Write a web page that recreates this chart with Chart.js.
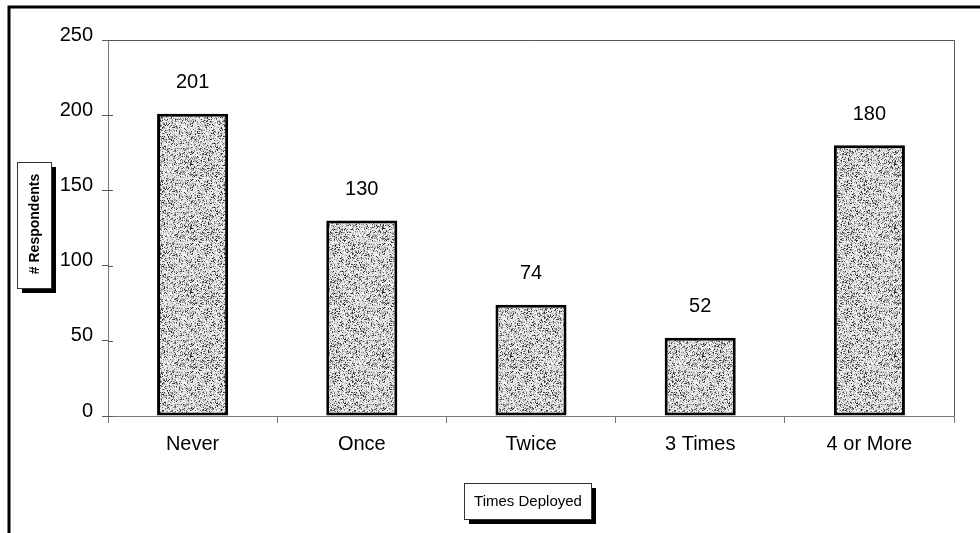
<!DOCTYPE html>
<html lang="en">
<head>
    <meta charset="UTF-8">
    <title>Times Deployed</title>
    <script src="https://cdn.jsdelivr.net/npm/chart.js"></script>
    <style>
        html, body {
            margin: 0;
            padding: 0;
            background: #fff;
        }
        .chart-container {
            position: relative;
            width: 980px;
            height: 533px;
        }
    </style>
</head>
<body>
    <div class="chart-container">
        <canvas id="deployChart" width="980" height="533"></canvas>
    </div>

    <script type="text/javascript">
        // data
        const categories = ['Never', 'Once', 'Twice', '3 Times', '4 or More'];
        const respondents = [201, 130, 74, 52, 180];
        const yTicks = [0, 50, 100, 150, 200, 250];

        const FONT = '"Liberation Sans", Arial, sans-serif';

        // speckled grey fill like the scanned bars
        function makeSpeckle() {
            const c = document.createElement('canvas');
            c.width = 64;
            c.height = 64;
            const g = c.getContext('2d');
            const img = g.createImageData(64, 64);
            let seed = 12345;
            function rnd() {
                seed = (seed * 1103515245 + 12345) & 0x7fffffff;
                return seed / 0x7fffffff;
            }
            for (let y = 0; y < 64; y++) {
                for (let x = 0; x < 64; x++) {
                    const r = rnd();
                    let v = 205 + rnd() * 50;
                    if (r < 0.32) v = 100 + rnd() * 80;
                    if (r < 0.07) v = 50;
                    const i = (y * 64 + x) * 4;
                    img.data[i] = img.data[i + 1] = img.data[i + 2] = v;
                    img.data[i + 3] = 255;
                }
            }
            g.putImageData(img, 0, 0);
            return g.createPattern(c, 'repeat');
        }

        // frame, plot border, value labels, boxed axis titles
        const decorPlugin = {
            id: 'decor',
            beforeDraw(chart) {
                const ctx = chart.ctx;
                ctx.save();
                ctx.strokeStyle = '#000';
                ctx.lineWidth = 3;
                ctx.beginPath();
                ctx.moveTo(9, 533);
                ctx.lineTo(9, 7);
                ctx.lineTo(980, 7);
                ctx.stroke();
                ctx.restore();
            },
            afterDatasetsDraw(chart) {
                const ctx = chart.ctx;
                const a = chart.chartArea;
                ctx.save();
                ctx.strokeStyle = '#555';
                ctx.lineWidth = 1;
                ctx.beginPath();
                ctx.moveTo(a.left, a.top + 0.5);
                ctx.lineTo(a.right + 0.5, a.top + 0.5);
                ctx.lineTo(a.right + 0.5, a.bottom);
                ctx.stroke();

                // y tick marks also poke into the plot a little
                const ys = chart.scales.y;
                ctx.strokeStyle = '#555';
                yTicks.forEach(v => {
                    const py = Math.round(ys.getPixelForValue(v)) + 0.5;
                    ctx.beginPath();
                    ctx.moveTo(a.left, py);
                    ctx.lineTo(a.left + 5, py);
                    ctx.stroke();
                });

                ctx.fillStyle = '#000';
                ctx.font = '20px ' + FONT;
                ctx.textAlign = 'center';
                ctx.textBaseline = 'middle';
                chart.getDatasetMeta(0).data.forEach((bar, i) => {
                    ctx.fillText(String(respondents[i]), bar.x, bar.y - 31);
                });

                function box(x, y, w, h) {
                    ctx.fillStyle = '#000';
                    ctx.fillRect(x + 5, y + 5, w, h);
                    ctx.fillStyle = '#fff';
                    ctx.fillRect(x, y, w, h);
                    ctx.strokeStyle = '#333';
                    ctx.lineWidth = 1;
                    ctx.strokeRect(x + 0.5, y + 0.5, w, h);
                }

                box(17, 162, 34, 126);
                ctx.save();
                ctx.translate(35, 224);
                ctx.rotate(-Math.PI / 2);
                ctx.fillStyle = '#000';
                ctx.font = 'bold 14px ' + FONT;
                ctx.fillText('# Respondents', 0, 0);
                ctx.restore();

                box(464, 483, 127, 36);
                ctx.fillStyle = '#000';
                ctx.font = '15px ' + FONT;
                ctx.fillText('Times Deployed', 528, 502);
                ctx.restore();
            }
        };

        const ctx = document.getElementById('deployChart').getContext('2d');
        new Chart(ctx, {
            type: 'bar',
            data: {
                labels: categories,
                datasets: [{
                    data: respondents,
                    backgroundColor: makeSpeckle(),
                    borderColor: '#000',
                    borderWidth: 3,
                    borderSkipped: false,
                    barPercentage: 1,
                    categoryPercentage: 0.42
                }]
            },
            options: {
                responsive: false,
                animation: false,
                layout: {
                    padding: { top: 40, right: 26, bottom: 0, left: 0 }
                },
                plugins: {
                    legend: { display: false },
                    tooltip: { enabled: false }
                },
                scales: {
                    x: {
                        afterFit: s => { s.height = 117; },
                        grid: {
                            offset: true,
                            drawOnChartArea: false,
                            color: '#777',
                            tickLength: 7
                        },
                        border: { color: '#777', width: 1 },
                        ticks: {
                            color: '#000',
                            padding: 9,
                            font: { family: FONT, size: 20 }
                        }
                    },
                    y: {
                        min: 0,
                        max: 250,
                        afterFit: s => { s.width = 108; },
                        afterBuildTicks: s => { s.ticks = yTicks.map(v => ({ value: v })); },
                        grid: {
                            drawOnChartArea: false,
                            color: '#555',
                            tickLength: 6
                        },
                        border: { color: '#777', width: 1 },
                        ticks: {
                            color: '#000',
                            padding: 9,
                            labelOffset: -5,
                            font: { family: FONT, size: 20 }
                        }
                    }
                }
            },
            plugins: [decorPlugin]
        });
    </script>
</body>
</html>
